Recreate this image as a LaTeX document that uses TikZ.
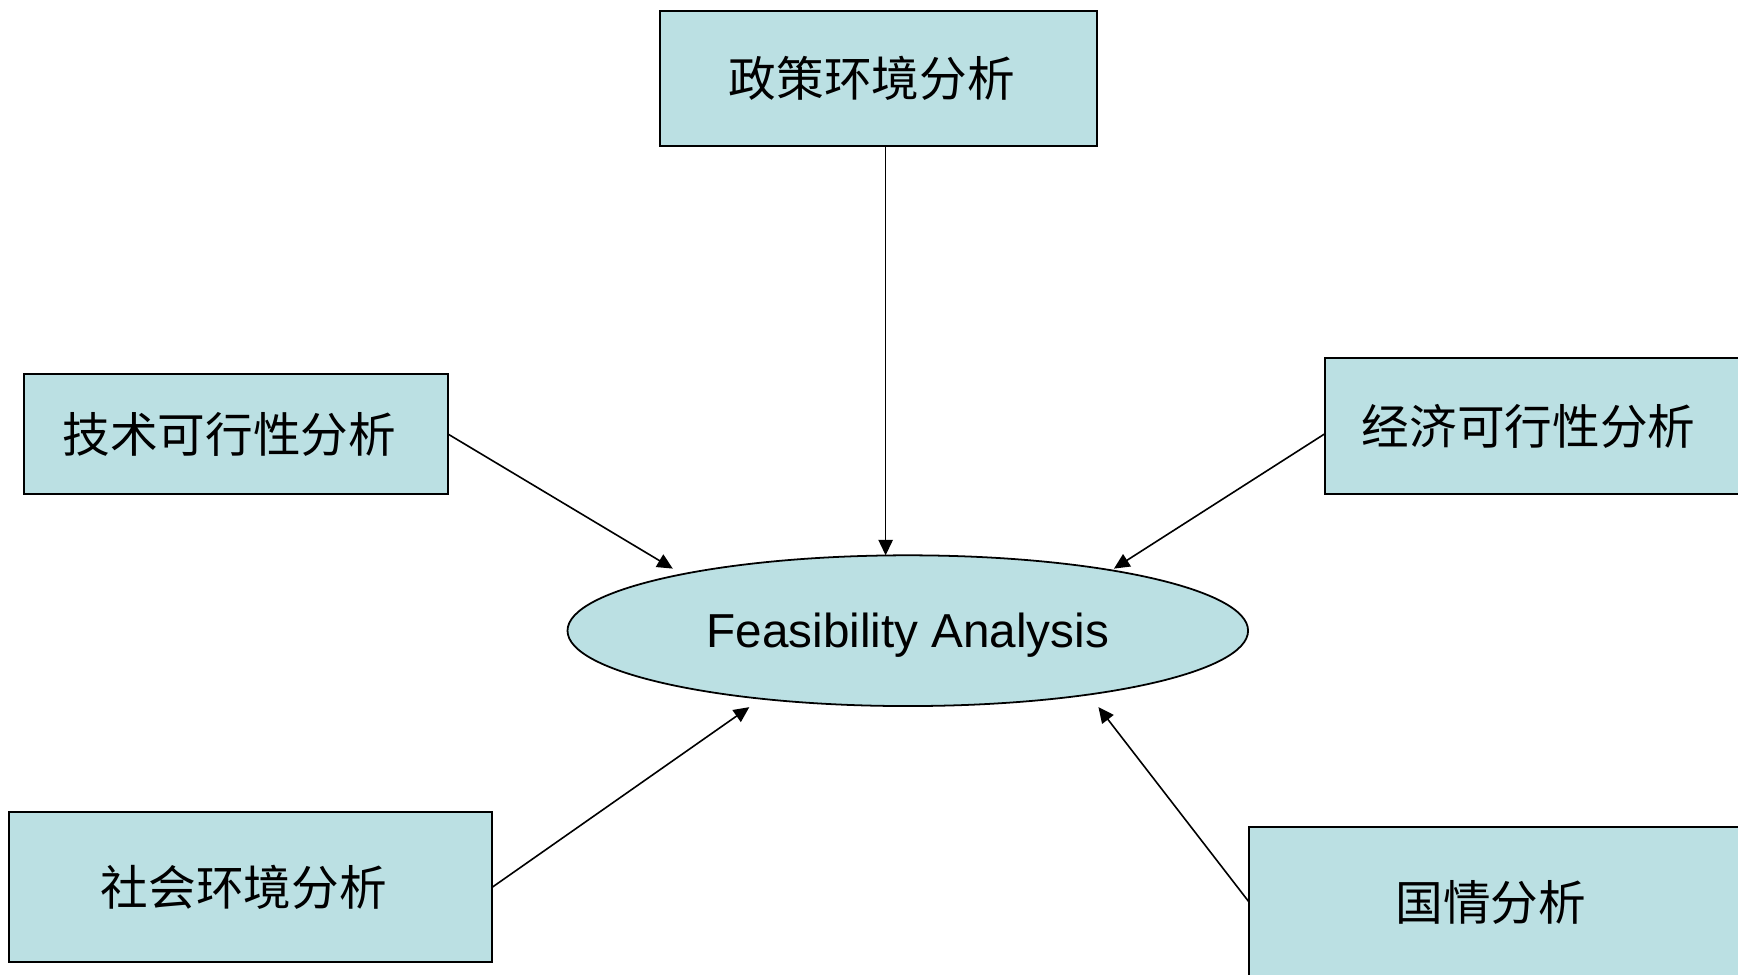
\documentclass[tikz,border=0pt]{standalone}
\usepackage{fontspec}
\setmainfont{Liberation Sans}
\newfontfamily\cjk{Noto Sans CJK SC}
\usetikzlibrary{arrows.meta,calc,shapes.geometric}
\definecolor{boxfill}{HTML}{BBE0E3}
\tikzset{
  box/.style={draw=black, fill=boxfill, line width=1.8pt, inner sep=0pt, outer sep=0pt,
    font=\cjk\fontsize{43}{50}\selectfont},
  hub/.style={ellipse, draw=black, fill=boxfill, line width=1.6pt, inner sep=0pt, outer sep=0pt,
    minimum width=614pt, minimum height=136pt, text height=31pt, text depth=0pt,
    font=\fontsize{43}{50}\selectfont},
  conn/.style={line width=1.45pt, -{Triangle[length=14pt,width=13pt]}}
}
\newcommand{\shiftl}{\kern12pt}
\begin{document}
\begin{tikzpicture}[x=1pt,y=1pt]
\useasboundingbox (0,0) rectangle (1568,879);
\node[box, minimum width=395pt, minimum height=122pt] (top) at (792.5,808) {政策环境分析\shiftl};
\node[box, minimum width=382pt, minimum height=109pt] (tech) at (213,487.5) {技术可行性分析\shiftl};
\node[box, minimum width=380pt, minimum height=123pt] (econ) at (1385,494.5) {经济可行性分析\shiftl};
\node[box, minimum width=436pt, minimum height=135pt] (soc) at (226,78.5) {社会环境分析\shiftl};
\node[box, minimum width=448pt, minimum height=136pt] (nat) at (1351,65) {国情分析\shiftl};
\node[hub] (hub) at (819,310) {Feasibility Analysis};
\coordinate (tTop) at ($(hub.center)+(-20,68)$);
\coordinate (tTL) at ($(hub.center)+(-212,56)$);
\coordinate (tTR) at ($(hub.center)+(186,56)$);
\coordinate (tBL) at ($(hub.center)+(-143,-69)$);
\coordinate (tBR) at ($(hub.center)+(172,-69)$);
\draw[conn] (tTop |- top.south) -- (tTop);
\draw[conn] (tech.east) -- (tTL);
\draw[conn] ($(econ.west)+(0,-7)$) -- (tTR);
\draw[conn] (soc.east) -- (tBL);
\draw[conn] (nat.west) -- (tBR);
\end{tikzpicture}
\end{document}
